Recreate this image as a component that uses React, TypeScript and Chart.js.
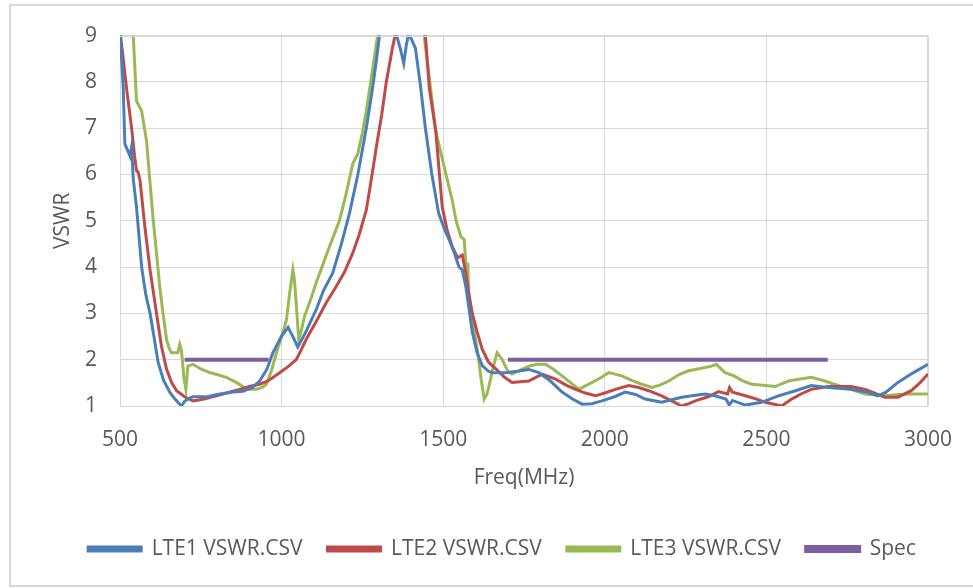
import React, { useEffect, useRef } from "react";
import { Chart, registerables } from "chart.js";

Chart.register(...registerables);

const LTE1_FREQ = [500, 510, 515, 520, 531, 536, 541, 551, 567, 580, 593, 605, 618, 635, 654, 670, 690, 700, 710, 725, 747, 770, 800, 850, 880, 910, 932, 955, 973, 999, 1020, 1035, 1050, 1075, 1107, 1130, 1158, 1185, 1210, 1236, 1262, 1280, 1293, 1310, 1340, 1356, 1368, 1378, 1386, 1392, 1400, 1414, 1430, 1445, 1465, 1486, 1505, 1519, 1535, 1549, 1559, 1570, 1580, 1590, 1605, 1621, 1640, 1652, 1693, 1730, 1765, 1796, 1830, 1868, 1900, 1930, 1960, 1991, 2030, 2063, 2095, 2125, 2176, 2238, 2270, 2310, 2340, 2375, 2385, 2395, 2435, 2485, 2537, 2590, 2639, 2691, 2762, 2810, 2846, 2870, 2907, 2950, 3000];
const LTE1_VSWR = [9.1, 7.87, 6.66, 6.58, 6.4, 6.6, 5.9, 5.3, 4.0, 3.4, 3.0, 2.5, 1.94, 1.55, 1.3, 1.15, 1.0, 1.1, 1.15, 1.2, 1.2, 1.2, 1.25, 1.3, 1.32, 1.4, 1.54, 1.8, 2.15, 2.5, 2.7, 2.5, 2.27, 2.6, 3.08, 3.5, 3.87, 4.5, 5.16, 6.0, 7.0, 7.8, 8.45, 9.4, 9.6, 9.0, 8.7, 8.4, 8.8, 9.0, 8.95, 8.73, 7.9, 7.0, 6.0, 5.16, 4.8, 4.58, 4.3, 4.0, 3.94, 3.58, 3.1, 2.6, 2.15, 1.87, 1.75, 1.72, 1.72, 1.75, 1.79, 1.72, 1.55, 1.3, 1.15, 1.04, 1.05, 1.11, 1.2, 1.3, 1.25, 1.15, 1.08, 1.19, 1.22, 1.26, 1.22, 1.15, 1.02, 1.12, 1.02, 1.08, 1.22, 1.33, 1.44, 1.4, 1.36, 1.3, 1.22, 1.3, 1.51, 1.7, 1.9];

const LTE2_FREQ = [500, 510, 520, 536, 545, 551, 556, 562, 577, 593, 613, 628, 644, 660, 675, 700, 726, 760, 798, 830, 870, 900, 932, 960, 994, 1020, 1045, 1060, 1076, 1105, 1138, 1169, 1195, 1220, 1240, 1262, 1280, 1293, 1310, 1324, 1343, 1360, 1400, 1440, 1445, 1457, 1477, 1497, 1512, 1528, 1545, 1559, 1570, 1580, 1590, 1605, 1621, 1640, 1663, 1690, 1713, 1765, 1806, 1848, 1880, 1910, 1940, 1971, 2000, 2033, 2074, 2105, 2136, 2176, 2210, 2238, 2260, 2280, 2320, 2352, 2380, 2386, 2395, 2435, 2470, 2497, 2547, 2578, 2610, 2639, 2691, 2762, 2805, 2835, 2866, 2907, 2948, 2975, 3000];
const LTE2_VSWR = [9.1, 8.5, 7.87, 7.0, 6.4, 6.09, 6.05, 5.87, 4.87, 3.94, 3.0, 2.3, 1.8, 1.5, 1.33, 1.2, 1.11, 1.15, 1.22, 1.28, 1.36, 1.42, 1.47, 1.55, 1.72, 1.85, 2.0, 2.2, 2.44, 2.8, 3.23, 3.58, 3.9, 4.3, 4.7, 5.23, 6.0, 6.59, 7.3, 8.0, 8.73, 9.3, 9.5, 9.2, 9.0, 7.87, 6.94, 5.3, 4.8, 4.44, 4.2, 4.26, 3.87, 3.4, 3.0, 2.6, 2.22, 1.95, 1.8, 1.62, 1.51, 1.54, 1.69, 1.58, 1.45, 1.36, 1.28, 1.22, 1.28, 1.36, 1.44, 1.4, 1.33, 1.22, 1.1, 1.0, 1.05, 1.11, 1.2, 1.31, 1.26, 1.4, 1.3, 1.22, 1.15, 1.08, 1.0, 1.15, 1.27, 1.36, 1.42, 1.42, 1.36, 1.28, 1.19, 1.19, 1.33, 1.5, 1.69];

const LTE3_FREQ = [500, 530, 541, 546, 551, 567, 582, 592, 603, 613, 623, 633, 644, 652, 659, 679, 685, 690, 693, 698, 704, 707, 710, 726, 750, 778, 800, 829, 860, 880, 891, 922, 940, 953, 968, 984, 1000, 1015, 1025, 1035, 1040, 1045, 1053, 1060, 1071, 1090, 1107, 1130, 1148, 1165, 1179, 1200, 1220, 1236, 1250, 1262, 1280, 1297, 1320, 1400, 1430, 1441, 1455, 1477, 1508, 1528, 1540, 1555, 1565, 1570, 1573, 1576, 1579, 1590, 1607, 1617, 1627, 1635, 1642, 1655, 1667, 1683, 1700, 1713, 1740, 1765, 1790, 1817, 1840, 1868, 1895, 1920, 1961, 1990, 2012, 2053, 2085, 2115, 2146, 2170, 2198, 2230, 2259, 2280, 2310, 2330, 2345, 2372, 2400, 2425, 2454, 2490, 2527, 2568, 2600, 2639, 2681, 2710, 2743, 2775, 2805, 2866, 2910, 2948, 3000];
const LTE3_VSWR = [11, 9.6, 9.0, 8.3, 7.59, 7.37, 6.73, 5.9, 5.0, 4.3, 3.58, 3.0, 2.44, 2.25, 2.15, 2.15, 2.33, 2.2, 2.0, 1.6, 1.36, 1.6, 1.86, 1.9, 1.8, 1.72, 1.68, 1.62, 1.51, 1.42, 1.36, 1.36, 1.4, 1.47, 1.75, 2.15, 2.5, 2.86, 3.44, 3.94, 3.7, 3.23, 2.44, 2.6, 2.94, 3.3, 3.66, 4.1, 4.44, 4.75, 5.0, 5.59, 6.23, 6.45, 6.9, 7.37, 8.2, 9.0, 10, 10, 9.5, 9.0, 8.2, 6.94, 6.02, 5.44, 5.0, 4.65, 4.6, 4.1, 3.5, 4.1, 3.4, 2.87, 2.15, 1.6, 1.15, 1.25, 1.44, 1.85, 2.15, 2.0, 1.75, 1.69, 1.78, 1.86, 1.9, 1.9, 1.8, 1.65, 1.5, 1.36, 1.51, 1.62, 1.72, 1.65, 1.55, 1.47, 1.4, 1.45, 1.54, 1.68, 1.76, 1.79, 1.83, 1.86, 1.9, 1.72, 1.65, 1.55, 1.47, 1.45, 1.42, 1.54, 1.58, 1.62, 1.54, 1.47, 1.4, 1.33, 1.26, 1.22, 1.25, 1.26, 1.26];

const SPEC_FREQ = [700, 960, 1330, 1700, 2690];
const SPEC_VSWR = [2, 2, null, 2, 2];

const X_TICKS = [500, 1000, 1500, 2000, 2500, 3000];
const Y_TICKS = [1, 2, 3, 4, 5, 6, 7, 8, 9];

const SERIES_NAMES = ["LTE1 VSWR.CSV", "LTE2 VSWR.CSV", "LTE3 VSWR.CSV", "Spec"];
const SERIES_COLORS = ["#4a7ebb", "#be4b48", "#98b954", "#7d5fa0"];

const zip = (xs: number[], ys: (number | null)[]) => xs.map((x, i) => ({ x, y: ys[i] }));

export default function App() {
  const ref = useRef<HTMLCanvasElement | null>(null);

  useEffect(() => {
    if (!ref.current) return;
    const font = "'Open Sans', 'Noto Sans', sans-serif";
    const textColor = "#595959";
    const grid = "#d9d9d9";
    const series = [
      zip(LTE1_FREQ, LTE1_VSWR),
      zip(LTE2_FREQ, LTE2_VSWR),
      zip(LTE3_FREQ, LTE3_VSWR),
      zip(SPEC_FREQ, SPEC_VSWR),
    ];
    const chart = new Chart(ref.current, {
      type: "line",
      data: {
        datasets: series.map((d, i) => ({
          label: SERIES_NAMES[i],
          data: d,
          borderColor: SERIES_COLORS[i],
          backgroundColor: SERIES_COLORS[i],
          borderWidth: i === 3 ? 4 : 3,
          pointRadius: 0,
          tension: 0,
          spanGaps: false,
          fill: false,
        })),
      },
      options: {
        animation: false,
        responsive: false,
        maintainAspectRatio: false,
        layout: { padding: { left: 36, right: 5, top: 34, bottom: 18.5 } },
        plugins: {
          tooltip: { enabled: false },
          legend: {
            position: "bottom",
            labels: {
              boxWidth: 53,
              boxHeight: 4,
              padding: 25,
              color: textColor,
              font: { family: font, size: 21 },
            },
          },
        },
        scales: {
          x: {
            type: "linear",
            min: 500,
            max: 3000,
            afterBuildTicks: (s: any) => {
              s.ticks = X_TICKS.map((v) => ({ value: v }));
            },
            afterFit: (s: any) => {
              s.height = 107.5;
            },
            grid: { color: grid, drawTicks: false, lineWidth: 1 },
            border: { color: grid, width: 1 },
            ticks: {
              color: textColor,
              font: { family: font, size: 21 },
              padding: 21,
              maxRotation: 0,
              callback: (v: any) => String(v),
            },
            title: {
              display: true,
              text: "Freq(MHz)",
              color: textColor,
              font: { family: font, size: 21 },
              padding: { top: 23, bottom: 23 },
            },
          },
          y: {
            type: "linear",
            min: 1,
            max: 9,
            afterBuildTicks: (s: any) => {
              s.ticks = Y_TICKS.map((v) => ({ value: v }));
            },
            afterFit: (s: any) => {
              s.width = 84;
            },
            grid: { color: grid, drawTicks: false, lineWidth: 1 },
            border: { color: grid, width: 1 },
            ticks: {
              color: textColor,
              font: { family: font, size: 21 },
              padding: 23,
              callback: (v: any) => String(v),
            },
            title: {
              display: true,
              text: "VSWR",
              color: textColor,
              font: { family: font, size: 21 },
              padding: { top: 14, bottom: 14 },
            },
          },
          yRightSpace: {
            type: "linear",
            position: "right",
            min: 1,
            max: 9,
            display: true,
            grid: { display: false },
            border: { display: false },
            ticks: { display: false },
            afterFit: (s: any) => {
              s.width = 38;
            },
          },
        },
      },
      plugins: [
        {
          id: "rightTopBorder",
          afterDraw(c: any) {
            const { ctx, chartArea } = c;
            ctx.save();
            ctx.strokeStyle = grid;
            ctx.lineWidth = 1;
            ctx.beginPath();
            ctx.moveTo(chartArea.left, Math.round(chartArea.top) + 0.5);
            ctx.lineTo(chartArea.right, Math.round(chartArea.top) + 0.5);
            ctx.moveTo(Math.round(chartArea.right) + 0.5, chartArea.top);
            ctx.lineTo(Math.round(chartArea.right) + 0.5, chartArea.bottom);
            ctx.stroke();
            ctx.restore();
          },
        },
      ],
    } as any);
    return () => chart.destroy();
  }, []);

  return (
    <div>
      <div
        style={{
          position: "fixed",
          left: 9,
          top: 4,
          width: 990,
          height: 583,
          border: "2px solid #d9d9d9",
          boxSizing: "border-box",
          background: "#fff",
        }}
      />
      <canvas
        ref={ref}
        width={973}
        height={588}
        style={{ position: "fixed", left: 0, top: 0, width: 973, height: 588 }}
      />
    </div>
  );
}
